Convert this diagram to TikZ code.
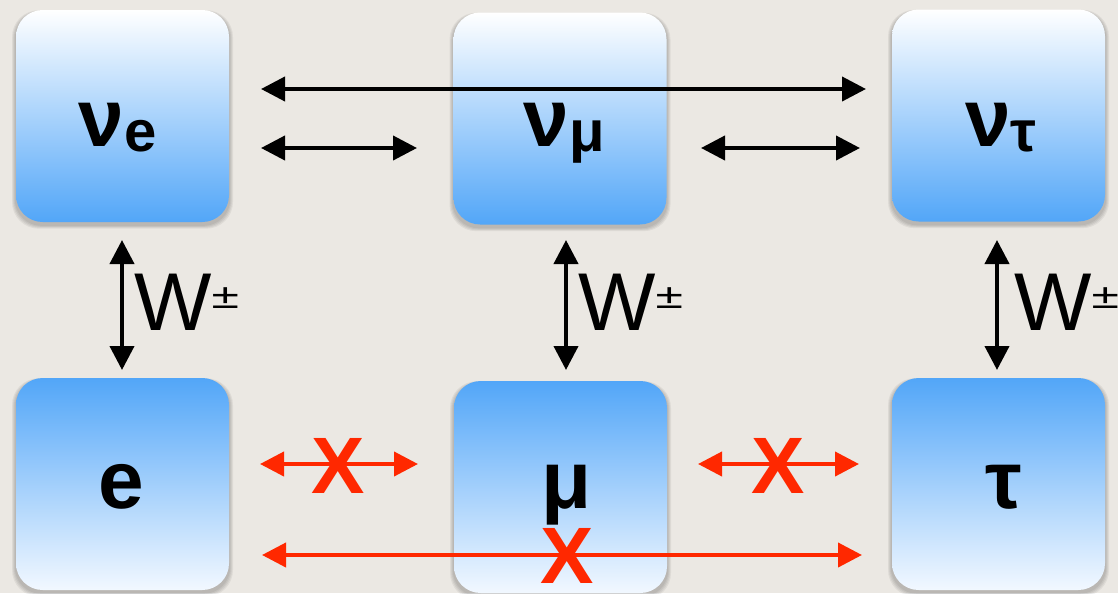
\documentclass[tikz,border=0pt]{standalone}
\usepackage{fontspec}
\usepackage{graphicx}
\setmainfont{Liberation Sans}
\usetikzlibrary{arrows.meta,backgrounds}
\definecolor{bgcol}{RGB}{235,232,227}
\definecolor{boxblue}{RGB}{82,166,248}
\definecolor{boxpale}{RGB}{242,248,255}
\definecolor{xred}{RGB}{255,40,0}
\newcommand\partsym[2]{#1\raisebox{-3.75pt}{\fontsize{43.5}{43.5}\selectfont\bfseries #2}}
\begin{document}
\begin{tikzpicture}[x=0.75pt,y=-0.75pt,
  boxbase/.style={rounded corners=20pt, minimum width=159.75pt, minimum height=159pt, inner sep=0pt},
  topbox/.style={boxbase, top color=white, bottom color=boxblue},
  botbox/.style={boxbase, top color=boxblue, bottom color=boxpale},
  lbl/.style={inner sep=0pt, anchor=base, font=\fontsize{61.5}{61.5}\selectfont\bfseries},
  blkarrow/.style={line width=3pt, black, {Triangle[length=18pt,width=18pt]}-{Triangle[length=18pt,width=18pt]}},
  redarrow/.style={line width=3pt, xred, {Triangle[length=18pt,width=18pt]}-{Triangle[length=18pt,width=18pt]}},
  xmark/.style={text=xred, inner sep=0pt, font=\fontsize{60}{60}\selectfont\bfseries},
  wlbl/.style={anchor=base west, inner sep=0pt, font=\fontsize{61.5}{61.5}\selectfont}
]
\useasboundingbox (0,0) rectangle (1118,593);

% boxes
\node[topbox] (ne) at (122.5,116) {};
\node[topbox] (nm) at (560,118.5) {};
\node[topbox] (nt) at (998.5,115.5) {};
\node[botbox] (e) at (122.5,484) {};
\node[botbox] (m) at (560.5,487) {};
\node[botbox] (t) at (998.5,484) {};

\begin{scope}[on background layer]
  \fill[bgcol] (0,0) rectangle (1118,593);
  \foreach \n in {ne,nm,nt,e,m,t}{
    \foreach \k in {1,2,3,4}{
      \fill[black, opacity=0.055, rounded corners=20pt]
        ([xshift=-\k*0.7pt, yshift=-2pt-\k*0.7pt]\n.south west) rectangle
        ([xshift=\k*0.7pt, yshift=-2pt+\k*0.4pt]\n.north east);
    }
  }
\end{scope}

% labels
\node[lbl] (lne) at (117.5,146) {\partsym{ν}{e}};
\node[lbl] (lnm) at (564,146) {\partsym{ν}{μ}};
\node[lbl] (lnt) at (1001,146) {\partsym{ν}{τ}};
\node[lbl] (le) at (121,508) {e};
\node[lbl] (lm) at (567,508) {μ};
\node[lbl] (lt) at (1004,508) {τ};

% top horizontal arrows
\coordinate (a1) at (261,89);  \coordinate (a2) at (866,89);
\coordinate (b1) at (261,148); \coordinate (b2) at (417,148);
\coordinate (c1) at (701,148); \coordinate (c2) at (860,148);
\draw[blkarrow] (a1) -- (a2);
\draw[blkarrow] (b1) -- (b2);
\draw[blkarrow] (c1) -- (c2);

% vertical arrows
\coordinate (v1t) at (122,240); \coordinate (v1b) at (122,370);
\coordinate (v2t) at (566,240); \coordinate (v2b) at (566,370);
\coordinate (v3t) at (997,240); \coordinate (v3b) at (997,370);
\draw[blkarrow] (v1t) -- (v1b);
\draw[blkarrow] (v2t) -- (v2b);
\draw[blkarrow] (v3t) -- (v3b);
\node[wlbl] (w1) at (134,330) {W\raisebox{16.5pt}{\scalebox{1}[0.7]{\fontsize{37.5}{37.5}\selectfont ±}}};
\node[wlbl] (w2) at (578,330) {W\raisebox{16.5pt}{\scalebox{1}[0.7]{\fontsize{37.5}{37.5}\selectfont ±}}};
\node[wlbl] (w3) at (1014,330) {W\raisebox{16.5pt}{\scalebox{1}[0.7]{\fontsize{37.5}{37.5}\selectfont ±}}};

% red arrows
\coordinate (r1a) at (260,464); \coordinate (r1b) at (418,464);
\coordinate (r2a) at (698,464); \coordinate (r2b) at (859,464);
\coordinate (r3a) at (262,555); \coordinate (r3b) at (862,555);
\draw[redarrow] (r1a) -- (r1b);
\draw[redarrow] (r2a) -- (r2b);
\draw[redarrow] (r3a) -- (r3b);
\node[xmark] (x1) at (338,466) {X};
\node[xmark] (x2) at (778,466) {X};
\node[xmark] (x3) at (567,556) {X};
\end{tikzpicture}
\end{document}
